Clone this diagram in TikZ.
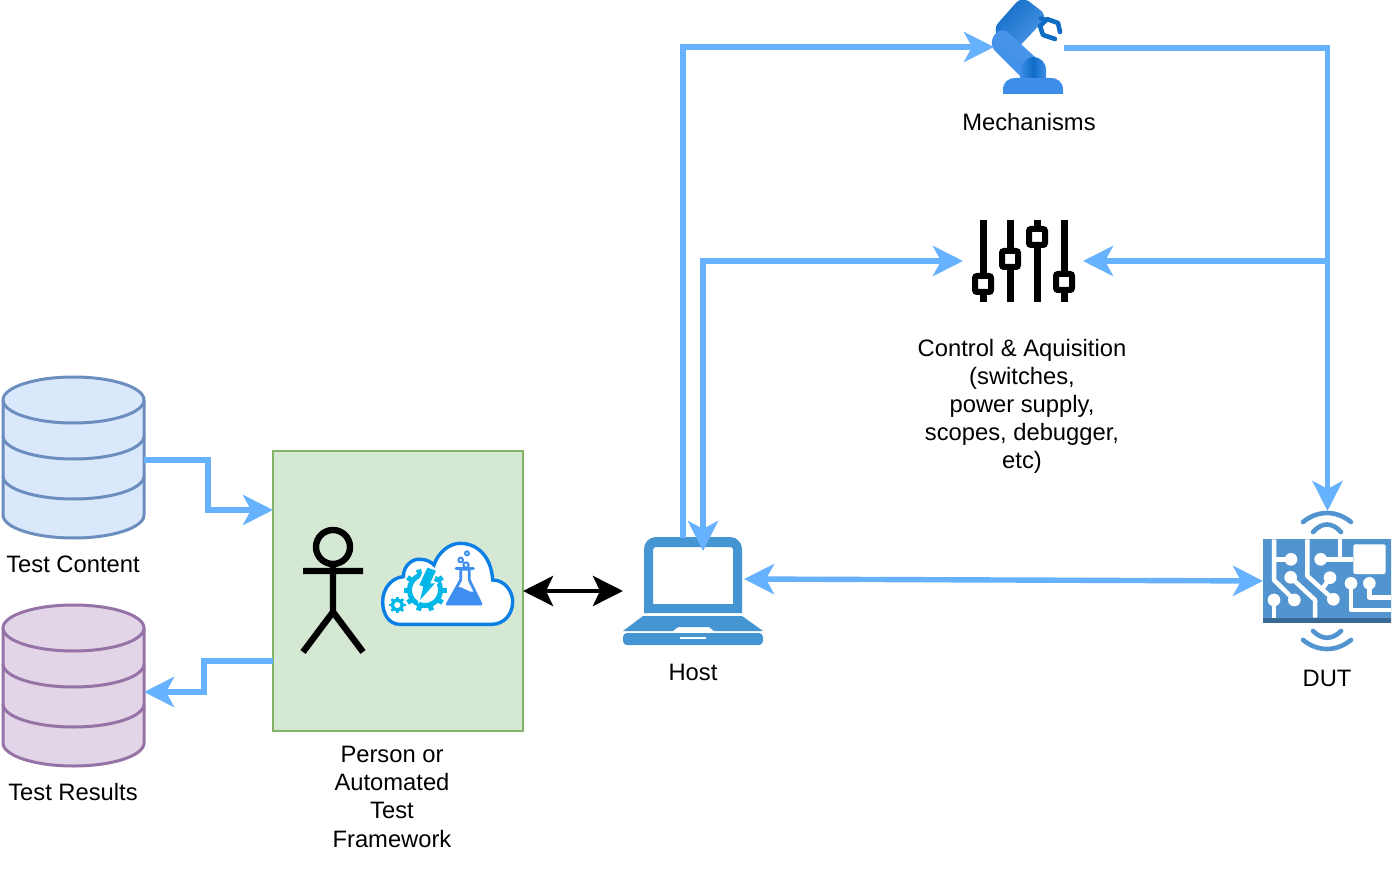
\documentclass[tikz,border=0pt]{standalone}
\usepackage{fontspec}
\setmainfont{Liberation Sans}
\usetikzlibrary{arrows.meta,calc}
\definecolor{flow}{HTML}{66B2FF}
\definecolor{iconblue}{HTML}{4495D1}
\definecolor{dutblue}{HTML}{5294CF}
\definecolor{dutdark}{HTML}{3A6A94}
\definecolor{cloudblue}{HTML}{0A7FE6}
\definecolor{gearcyan}{HTML}{00B7E8}
\definecolor{flaskblue}{HTML}{3F8FF0}
\definecolor{robotdark}{HTML}{0F6CC4}
\definecolor{robotmid}{HTML}{3C8EE8}
\definecolor{robotlight}{HTML}{5098EA}
\definecolor{dbbluefill}{HTML}{DAE8FC}
\definecolor{dbblueline}{HTML}{6C8EBF}
\definecolor{dbpurplefill}{HTML}{E1D5E7}
\definecolor{dbpurpleline}{HTML}{9673A6}
\definecolor{framefill}{HTML}{D5E8D4}
\definecolor{frameline}{HTML}{82B366}
\tikzset{
  anchorbox/.style={inner sep=0pt,outer sep=0pt,minimum width=#1},
  label text/.style={inner sep=0pt,outer sep=0pt,align=center,font=\fontsize{23.75}{28}\selectfont,text=black},
  flowline/.style={draw=flow,line width=5.4pt,line join=miter,-{Stealth[length=30pt,width=30pt,inset=8pt]}},
  flowboth/.style={draw=flow,line width=5.4pt,line join=miter,{Stealth[length=30pt,width=30pt,inset=8pt]}-{Stealth[length=30pt,width=30pt,inset=8pt]}},
  blackboth/.style={draw=black,line width=4.4pt,{Stealth[length=30pt,width=30pt,inset=7pt]}-{Stealth[length=30pt,width=30pt,inset=7pt]}},
  trace/.style={draw=white,line width=4.5pt,line join=round},
  wave/.style={draw=dutblue,line width=4.6pt,line cap=round},
}
\newcommand{\dbcyl}[3]{%
  \begin{scope}[yshift=-#3pt]
    \path[fill=#1,draw=#2,line width=3pt] (3,23) arc[x radius=70.5,y radius=23,start angle=180,end angle=360]
      -- (144,138) arc[x radius=70.5,y radius=23,start angle=0,end angle=180] -- cycle;
    \draw[draw=#2,line width=3pt] (3,23) arc[x radius=70.5,y radius=23,start angle=180,end angle=0];
    \draw[draw=#2,line width=3pt] (3,59) arc[x radius=70.5,y radius=23,start angle=180,end angle=0];
    \draw[draw=#2,line width=3pt] (3,99) arc[x radius=70.5,y radius=23,start angle=180,end angle=0];
  \end{scope}}
% centre x, centre y, outer radius, teeth, ring radius, ring width, tooth width
\newcommand{\geargl}[7]{%
  \foreach \a in {1,...,#4}{
    \draw[gearcyan,line width=#7pt] (#1,#2) ++(\a*360/#4:#5) -- ++(\a*360/#4:#3-#5);
  }
  \draw[gearcyan,line width=#6pt] (#1,#2) circle[radius=#5];}
\newcommand{\knob}[2]{%
  \draw[black,line width=7pt] (#1,220) -- (#1,302);
  \path[fill=white,draw=black,line width=6pt,rounded corners=2pt] (#1-8,#2-8) rectangle (#1+8,#2+8);}
\begin{document}
\begin{tikzpicture}[x=1pt,y=-1pt]
\useasboundingbox (0,0) rectangle (1392,882);
\fill[white] (0,0) rectangle (1392,882);

% frame box
\node[anchorbox=250pt,minimum height=280pt,fill=framefill,draw=frameline,line width=1.6pt] (frame) at (398,591) {};

% databases
\dbcyl{dbbluefill}{dbblueline}{377}
\dbcyl{dbpurplefill}{dbpurpleline}{605}
\node[anchorbox=141pt,minimum height=161pt] (content) at (73.5,457.5) {};
\node[anchorbox=141pt,minimum height=161pt] (results) at (73.5,685.5) {};

% person
\draw[black,line width=6.4pt] (333,547) circle[radius=17];
\draw[black,line width=6.4pt] (333,564) -- (333,612) (303,571) -- (363,571) (303,652) -- (333,612) -- (363,652);

% cloud icon
\begin{scope}[shift={(370,530)},scale=1/3]
  \path[fill=white,draw=cloudblue,line width=3.4pt]
    (90,283) .. controls (55,283) and (38,250) .. (38,215)
    .. controls (38,175) and (65,143) .. (100,140)
    .. controls (100,105) and (130,85) .. (150,88)
    .. controls (170,88) and (185,97) .. (192,105)
    .. controls (205,65) and (240,40) .. (270,40)
    .. controls (330,40) and (365,90) .. (368,150)
    .. controls (405,150) and (428,185) .. (428,215)
    .. controls (428,255) and (400,283) .. (365,283) -- cycle;
  % flask
  \path[fill=white,draw=flaskblue,line width=2.8pt,line join=round] (272,118) -- (272,150) -- (232,222) -- (333,222) -- (298,150) -- (298,118) -- cycle;
  \draw[flaskblue,line width=3pt,line cap=round] (258,116) -- (310,116);
  \path[fill=flaskblue] (258,170) .. controls (280,168) and (295,190) .. (312,185) -- (336,225) -- (229,225) -- cycle;
  \draw[flaskblue,line width=2pt] (272,90) circle[radius=7] (291,70) circle[radius=6] (288,105) circle[radius=8];
\end{scope}
\geargl{425}{590}{21.5}{10}{15.5}{5}{5}
\geargl{397.3}{605}{8.3}{8}{5}{3.4}{2.6}
\begin{scope}[shift={(370,530)},scale=1/3]
  \path[fill=white] (166,106) -- (206,118) -- (190,154) -- (206,158) -- (144,222) -- (152,174) -- (140,168) -- cycle;
  \path[fill=gearcyan] (172,113) -- (198,122) -- (180,160) -- (195,160) -- (150,210) -- (160,170) -- (148,165) -- cycle;
\end{scope}

% laptop
\node[anchorbox=140pt,minimum height=108pt] (host) at (693,591) {};
\path[fill=iconblue,even odd rule] (644,613) -- (644,549) arc[radius=12,start angle=180,end angle=270] -- (730,537) arc[radius=12,start angle=270,end angle=360] -- (742,613) -- cycle
  (653,604) -- (733,604) -- (733,549) -- (731,547) -- (655,547) -- (653,549) -- cycle;
\path[fill=iconblue] (643,616) -- (742,616) -- (763,631) -- (714,631) -- (709,627) -- (678,627) -- (673,631) -- (623,631) -- cycle;
\path[fill=iconblue,rounded corners=4pt] (623,633) -- (763,633) -- (763,645) -- (623,645) -- cycle;
\fill[white] (680,636.5) rectangle (706,638.5);

% DUT
\node[anchorbox=129pt,minimum height=84pt] (dut) at (1327.5,581) {};
\begin{scope}
  \clip (1250,500) rectangle (1391,660);
  \fill[dutblue] (1263,539) rectangle (1392,618);
  \fill[dutdark] (1263,618) rectangle (1392,623);
  \begin{scope}[shift={(1250,500)},scale=1/3]
    \draw[trace] (72,118) -- (72,240) -- (133,300);
    \draw[trace] (72,178) -- (123,178);
    \draw[trace] (122,232) -- (195,300) -- (195,353);
    \draw[trace] (72,300) -- (72,353);
    \draw[trace] (172,118) -- (172,228) -- (250,298);
    \draw[trace] (215,270) -- (240,233);
    \draw[trace] (212,178) -- (310,178);
    \draw[trace] (270,118) -- (270,178);
    \draw[trace] (303,250) -- (303,330) -- (430,330);
    \draw[trace] (358,250) -- (358,292) -- (430,292);
    \fill[white,rounded corners=2pt] (310,133) rectangle (407,222);
    \fill[white] (133,300) circle[radius=19] (123,178) circle[radius=19] (122,232) circle[radius=19]
      (72,300) circle[radius=19] (250,298) circle[radius=19] (240,233) circle[radius=19]
      (212,178) circle[radius=19] (303,250) circle[radius=19] (358,250) circle[radius=19];
  \end{scope}
\end{scope}
\draw[wave] (1303,522) .. controls (1318,510) and (1336,510) .. (1351,522);
\draw[wave] (1313,532) .. controls (1322,522) and (1332,522) .. (1341,532);
\draw[wave] (1313,631) .. controls (1322,640) and (1332,640) .. (1341,631);
\draw[wave] (1303,640) .. controls (1318,652) and (1336,652) .. (1351,640);

% sliders
\node[anchorbox=120pt,minimum height=82pt] (sliders) at (1023,261) {};
\knob{983}{284}
\knob{1010}{259}
\knob{1037}{237}
\knob{1064}{282}

% robot
\node[anchorbox=72pt,minimum height=94pt] (robot) at (1028,47) {};
\path[fill=robotmid] (1003,94) -- (1003,90) .. controls (1003,82) and (1008,78) .. (1016,78) -- (1050,78) .. controls (1058,78) and (1063,82) .. (1063,90) -- (1063,94) -- cycle;
\path[left color=robotdark,right color=robotlight,shading angle=45,rounded corners=9pt] (992,30) -- (1022,-4) -- (1048,16) -- (1014,52) -- cycle;
\path[left color=robotlight,right color=robotmid,shading angle=-45,rounded corners=10pt] (1001,26) -- (1045,66) -- (1028,84) -- (988,44) -- cycle;
\path[left color=robotmid,right color=robotmid,middle color=robotdark] (1020,78) -- (1020,70) .. controls (1022,62) and (1028,57) .. (1033,57) .. controls (1040,57) and (1046,62) .. (1046,70) -- (1046,78) -- cycle;
\draw[robotdark,line width=4.6pt,line join=round,line cap=round] (1055,39) -- (1043,35) -- (1040,26) -- (1047,19) -- (1058,23) -- (1060,32);
\draw[robotdark,line width=4pt] (1039,18) -- (1047,20);

% connectors
\draw[flowline] ([yshift=-2.5pt]content.east) -| (208,510) -- (frame.west |- 0,510);
\draw[flowline] (frame.west |- 0,661) -| (204,692) -- ([yshift=-6.5pt]results.east);
\draw[blackboth] (frame.east) -- (host.west);
\draw[flowline] (683,538) |- ([xshift=2pt]robot.west);
\draw[flowboth] (703,551) |- (sliders.west);
\draw[flowline] ([yshift=-1pt]robot.east) -| (dut.north |- 0,511);
\draw[flowline] (1327,261) -- (sliders.east);
\draw[flowboth] ([xshift=-19pt,yshift=12pt]host.east) -- (dut.west);

% labels
\node[label text] (lcontent) at (73,564) {Test Content};
\node[label text] (lresults) at (73,792) {Test Results};
\node[label text] (lframe) at (392,797) {Person or\\Automated\\Test\\[1pt]Framework};
\node[label text] (lhost) at (693,672) {Host};
\node[label text] (ldut) at (1327,678) {DUT};
\node[label text] (lrobot) at (1029,122) {Mechanisms};
\node[label text] (lctrl) at (1022,406) {Control \& Aquisition\\(switches,\\power supply,\\scopes, debugger,\\etc)};
\end{tikzpicture}
\end{document}
